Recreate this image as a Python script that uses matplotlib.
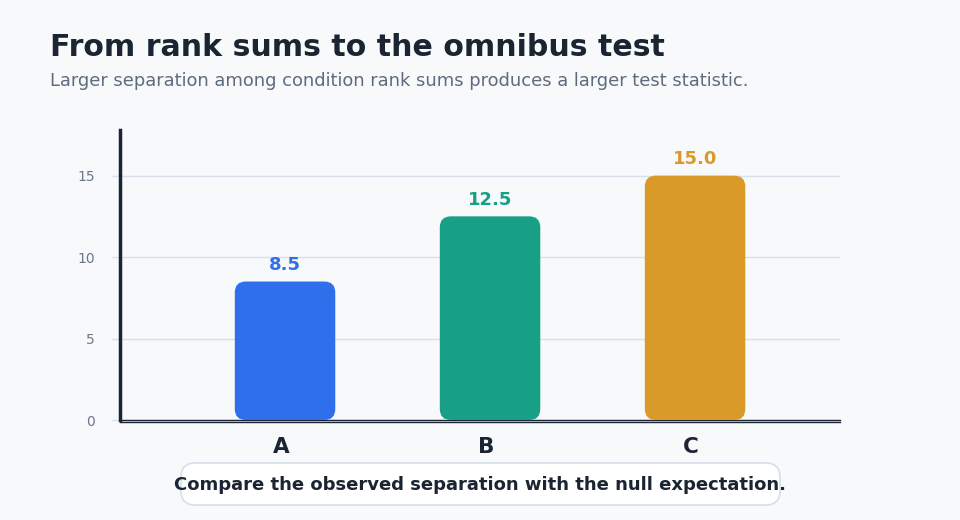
import matplotlib
matplotlib.use("Agg")
import matplotlib.pyplot as plt
from matplotlib.patches import FancyBboxPatch
from matplotlib.transforms import ScaledTranslation

categories = ["A", "B", "C"]
rank_sums = [8.5, 12.5, 15.0]
bar_colors = ["#2F6FEB", "#17A085", "#D99A29"]
y_ticks = [0, 5, 10, 15]

title = "From rank sums to the omnibus test"
subtitle = "Larger separation among condition rank sums produces a larger test statistic."
note = "Compare the observed separation with the null expectation."

BG = "#F7F9FB"
DARK = "#1B2432"
GRID = "#D8E0EC"

fig = plt.figure(figsize=(9.6, 5.2), dpi=100, facecolor=BG)
ax = fig.add_axes([120/960, 1-420/520, 720/960, 290/520])
ax.set_facecolor(BG)

for s in ["top", "right"]:
    ax.spines[s].set_visible(False)
ax.spines["left"].set_color(DARK)
ax.spines["left"].set_linewidth(2.5)
ax.spines["bottom"].set_color(DARK)
ax.spines["bottom"].set_linewidth(1)
ax.spines["bottom"].set_position(("outward", 1.2))

ax.set_xlim(-0.805, 2.707)
ax.set_ylim(0, 17.8)

# pixel scale for rounding
px_x = 720 / (2.707 + 0.805)   # px per x unit
px_y = 290 / 17.8              # px per y unit
radius_px = 11
width = 0.49
for i, (v, c) in enumerate(zip(rank_sums, bar_colors)):
    rs = radius_px / px_x
    p = FancyBboxPatch((i - width/2, 0), width, v,
                       boxstyle=f"round,pad=0,rounding_size={rs}",
                       mutation_aspect=px_x/px_y,
                       facecolor=c, edgecolor="none", zorder=3)
    ax.add_patch(p)
    ax.annotate(f"{v:.1f}", (i, v), xytext=(0, 12), textcoords="offset points",
                ha="center", va="center", color=c, fontsize=13,
                fontweight="bold", zorder=4)

ax.set_xticks(range(len(categories)))
ax.set_xticklabels(categories, fontsize=15.5, fontweight="bold", color=DARK)
ax.tick_params(axis="x", length=0, pad=11)
shift = ScaledTranslation(-4/100, 0, fig.dpi_scale_trans)
for lab in ax.get_xticklabels():
    lab.set_transform(lab.get_transform() + shift)
ax.set_yticks(y_ticks)
ax.tick_params(axis="y", length=6, width=1, color=GRID, labelcolor="#6B778A",
               labelsize=10, pad=12)
ax.grid(axis="y", color=GRID, linewidth=1, zorder=0)
ax.set_axisbelow(True)

ax.axhline(0, color=DARK, linewidth=1, zorder=2, clip_on=False)

fig.text(50/960, 1-47.5/520, title, fontsize=21.6, fontweight="bold", color=DARK,
         ha="left", va="center")
fig.text(50/960, 1-81/520, subtitle, fontsize=12.9, color="#5F6B7E",
         ha="left", va="center")

box = FancyBboxPatch((181/960, 1-505/520), 599/960, 42/520,
                     boxstyle="round,pad=0,rounding_size=0.015",
                     transform=fig.transFigure, facecolor="white",
                     edgecolor="#D5DEEA", linewidth=1.2, mutation_aspect=960/520)
fig.patches.append(box)
fig.text(480/960, 1-485/520, note, fontsize=12.95, fontweight="bold", color=DARK,
         ha="center", va="center")

fig.savefig("out.png", dpi=100, facecolor=BG)
